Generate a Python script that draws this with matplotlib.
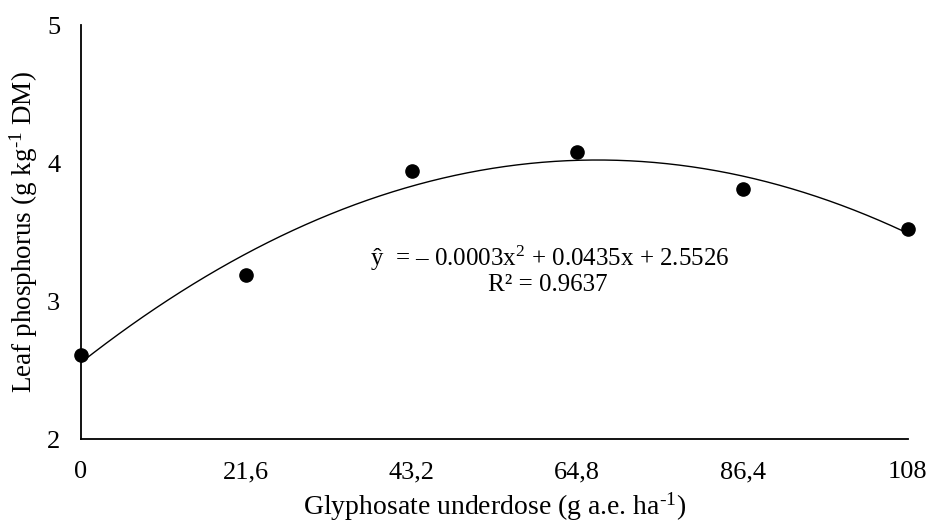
import numpy as np
import matplotlib
matplotlib.use("Agg")
import matplotlib.pyplot as plt

plt.rcParams['font.family'] = ['Liberation Serif', 'DejaVu Serif']
plt.rcParams['mathtext.fontset'] = 'custom'
plt.rcParams['mathtext.rm'] = 'Liberation Serif'
plt.rcParams['mathtext.it'] = 'Liberation Serif:italic'

# Data
dose = [0, 21.6, 43.2, 64.8, 86.4, 108]
dose_labels = ['0', '21,6', '43,2', '64,8', '86,4', '108']
phosphorus = [2.61, 3.19, 3.94, 4.08, 3.81, 3.52]
y_ticks = [2, 3, 4, 5]

# Quadratic trend fitted to the points
coef = np.polyfit(dose, phosphorus, 2)
x_fit = np.linspace(0, 108, 200)
y_fit = np.polyval(coef, x_fit)

fig = plt.figure(figsize=(9.26, 5.21), dpi=100)
ax = fig.add_axes([0.0875, 0.157, 0.893, 0.795])

ax.plot(x_fit, y_fit, color='black', linewidth=1.0)
ax.plot(dose, phosphorus, 'o', color='black', markersize=9.5, clip_on=False, zorder=3)

ax.set_xlim(0, 108)
ax.set_ylim(2, 5)
ax.set_xticks(dose)
ax.set_xticklabels(dose_labels)
ax.set_yticks(y_ticks)
ax.tick_params(axis='both', length=0, labelsize=19)
ax.tick_params(axis='x', pad=16)
ax.tick_params(axis='y', pad=15)

ax.spines['top'].set_visible(False)
ax.spines['right'].set_visible(False)
ax.spines['left'].set_linewidth(1.3)
ax.spines['bottom'].set_linewidth(1.3)

ax.set_xlabel(r'Glyphosate underdose (g a.e. ha$^{\text{-}1}$)', fontsize=20)
ax.set_ylabel(r'Leaf phosphorus (g kg$^{\text{-}1}$ DM)', fontsize=19.5)
ax.xaxis.set_label_coords(0.5, -0.123)
ax.yaxis.set_label_coords(-0.05, 0.5)

ax.text(61.2, 3.31, 'ŷ  = – 0.0003x$^{2}$ + 0.0435x + 2.5526', fontsize=18,
        ha='center', va='center')
ax.text(61.0, 3.115, 'R² = 0.9637', fontsize=18, ha='center', va='center')

fig.savefig('out.png', dpi=100)
